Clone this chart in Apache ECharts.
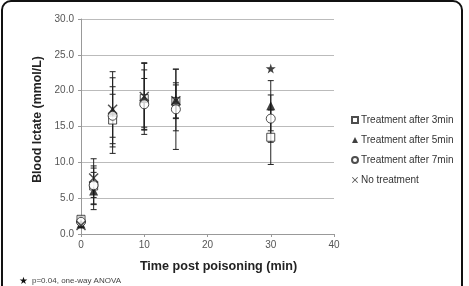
<!DOCTYPE html>
<html>
<head>
<meta charset="utf-8">
<script src="https://cdn.jsdelivr.net/npm/echarts@6/dist/echarts.min.js"></script>
<style>
  html, body { margin: 0; padding: 0; background: #fff; }
  #chart { width: 469px; height: 286px; }
</style>
</head>
<body>
<div id="chart"></div>
<script>
// time points (min)
const times = [0, 2, 5, 10, 15, 30];

// mean and SD per group
const mean3 = [2.05, 6.7, 15.9, 18.9, 18.5, 13.5];
const sd3 = [0.4, 2.5, 4.65, 5.0, 2.3, 3.8];
const mean5 = [1.4, 6.0, 17.2, 18.9, 18.7, 17.9];
const sd5 = [0.3, 2.6, 4.6, 4.0, 4.3, 3.5];
const mean7 = [1.7, 6.8, 16.5, 18.1, 17.4, 16.1];
const sd7 = [0.4, 2.7, 3.0, 3.6, 5.6, 3.3];
const meanNone = [1.2, 7.8, 17.4, 19.2, 18.6, null];
const sdNone = [0.3, 2.7, 5.25, 4.6, 2.5, null];

// significance marker
const starPoint = [30, 23.1];

const groupNames = ['Treatment after 3min', 'Treatment after 5min', 'Treatment after 7min', 'No treatment'];
const yTicks = [0, 5, 10, 15, 20, 25, 30];

const FONT = 'Liberation Sans';
const STAR = 'path://M50,0L61,35L98,35L68,57L79,91L50,70L21,91L32,57L2,35L39,35Z';
const CROSS = 'path://M0,1L1,0L5,4L9,0L10,1L6,5L10,9L9,10L5,6L1,10L0,9L4,5Z';

const chart = echarts.init(document.getElementById('chart'));

function pts(means) {
  return times.map((t, i) => means[i] == null ? null : [t, means[i]]).filter(p => p);
}
function errs(means, sds) {
  return times.map((t, i) => means[i] == null ? null : [t, means[i] - sds[i], means[i] + sds[i]]).filter(p => p);
}

function renderErr(params, api) {
  const x = api.value(0);
  const lo = api.coord([x, api.value(1)]);
  const hi = api.coord([x, api.value(2)]);
  const w = 3;
  const st = { stroke: '#222', lineWidth: 1 };
  return {
    type: 'group',
    children: [
      { type: 'line', shape: { x1: lo[0], y1: lo[1], x2: hi[0], y2: hi[1] }, style: st },
      { type: 'line', shape: { x1: lo[0] - w, y1: lo[1], x2: lo[0] + w, y2: lo[1] }, style: st },
      { type: 'line', shape: { x1: hi[0] - w, y1: hi[1], x2: hi[0] + w, y2: hi[1] }, style: st }
    ]
  };
}

const groups = [
  { name: groupNames[0], m: mean3, s: sd3, symbol: 'rect', size: 8, style: { color: '#fff', borderColor: '#222', borderWidth: 1 } },
  { name: groupNames[1], m: mean5, s: sd5, symbol: 'triangle', size: 9, style: { color: '#111' } },
  { name: groupNames[2], m: mean7, s: sd7, symbol: 'circle', size: 9, style: { color: '#fff', borderColor: '#222', borderWidth: 1 } },
  { name: groupNames[3], m: meanNone, s: sdNone, symbol: CROSS, size: 10, style: { color: '#222' } }
];

const series = [];
groups.forEach(g => {
  series.push({
    type: 'custom',
    renderItem: renderErr,
    data: errs(g.m, g.s),
    encode: { x: 0, y: [1, 2] },
    z: 1,
    silent: true
  });
});
groups.forEach(g => {
  series.push({
    name: g.name,
    type: 'scatter',
    data: pts(g.m),
    symbol: g.symbol,
    symbolSize: g.size,
    itemStyle: g.style,
    z: 3
  });
});
series.push({
  type: 'scatter',
  data: [starPoint],
  symbol: STAR,
  symbolSize: 10,
  itemStyle: { color: '#111' },
  z: 3
});

chart.setOption({
  animation: false,
  textStyle: { fontFamily: FONT },
  grid: { left: 81, right: 135, top: 19, bottom: 52 },
  legend: {
    data: groupNames,
    orient: 'vertical',
    left: 346,
    top: 110,
    itemGap: 10,
    itemWidth: 6,
    itemHeight: 6,
    textStyle: { fontSize: 10, color: '#333', fontFamily: FONT, padding: [0, 0, 0, -2] }
  },
  xAxis: {
    type: 'value',
    min: 0,
    max: 40,
    interval: 10,
    name: 'Time post poisoning (min)',
    nameLocation: 'middle',
    nameGap: 26,
    nameTextStyle: { fontSize: 12.6, fontWeight: 'bold', color: '#222', padding: [0, 0, 0, 22] },
    axisLine: { lineStyle: { color: '#999' } },
    axisTick: { show: true, length: 3, lineStyle: { color: '#999' } },
    axisLabel: { fontSize: 10, color: '#555', margin: 6 },
    splitLine: { show: false }
  },
  yAxis: {
    type: 'value',
    min: yTicks[0],
    max: yTicks[yTicks.length - 1],
    interval: 5,
    name: 'Blood lctate (mmol/L)',
    nameLocation: 'middle',
    nameGap: 32,
    nameTextStyle: { fontSize: 12.4, fontWeight: 'bold', color: '#222', padding: [0, 0, 0, 14] },
    axisLine: { show: true, lineStyle: { color: '#999' } },
    axisTick: { show: true, length: 3, lineStyle: { color: '#999' } },
    axisLabel: { fontSize: 10, color: '#555', margin: 7, formatter: v => v.toFixed(1) },
    splitLine: { lineStyle: { color: '#bbb', width: 1 } }
  },
  graphic: [
    {
      type: 'rect',
      shape: { x: 2, y: 1, width: 460, height: 310, r: 9 },
      style: { fill: 'none', stroke: '#111', lineWidth: 2 },
      silent: true
    },
    {
      type: 'text',
      left: 19,
      top: 276,
      style: { text: '★', fontSize: 10, fill: '#111', fontFamily: 'DejaVu Sans' }
    },
    {
      type: 'text',
      left: 32,
      top: 277,
      style: { text: 'p=0.04, one-way ANOVA', fontSize: 8, fill: '#444', fontFamily: FONT }
    }
  ],
  series: series
});
</script>
</body>
</html>
